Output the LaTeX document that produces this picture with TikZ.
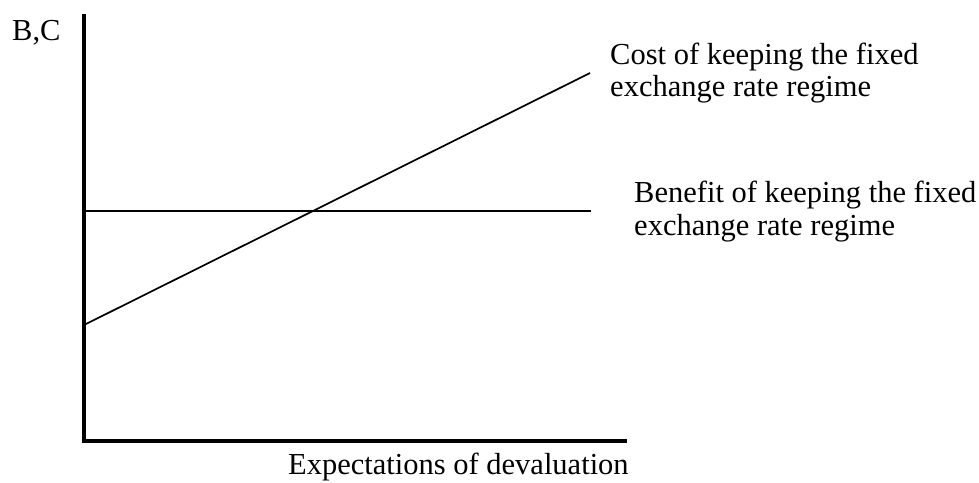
\documentclass[tikz,border=0pt]{standalone}
\usepackage{fontspec}
\setmainfont{Liberation Serif}
\begin{document}
\begin{tikzpicture}[x=1pt,y=-1pt,
  axis/.style={line width=3.5pt,line cap=rect},
  curve/.style={line width=1.7pt},
  lbl/.style={anchor=base west,inner sep=0pt,font=\fontsize{30.5}{36}\selectfont}]
\useasboundingbox (0,0) rectangle (979,482);
\coordinate (O) at (84,441);
\coordinate (Ytop) at (84,16);
\coordinate (Xend) at (625,441);
\coordinate (B0) at (84,211);
\coordinate (B1) at (591,211);
\coordinate (C0) at (84,325);
\coordinate (C1) at (590,73);
\draw[axis] (Ytop) -- (O) -- (Xend);
\draw[curve] (B0) -- (B1);
\draw[curve] (C0) -- (C1);
\node[lbl] (bc) at (12,40) {B,C};
\node[lbl] (c1) at (610,64) {Cost of keeping the fixed};
\node[lbl] (c2) at (610,96) {exchange rate regime};
\node[lbl] (b1) at (634,202) {Benefit of keeping the fixed};
\node[lbl] (b2) at (634,235) {exchange rate regime};
\node[lbl] (x) at (288,474) {Expectations of devaluation};
\end{tikzpicture}
\end{document}
